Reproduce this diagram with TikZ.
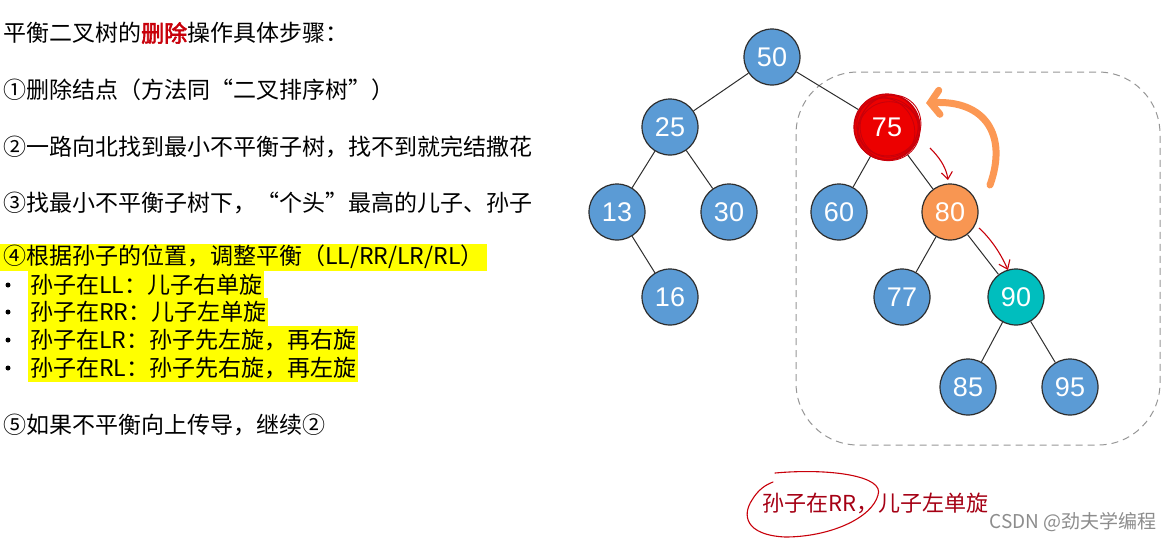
\documentclass[tikz,border=0pt]{standalone}
\usepackage{fontspec}
\setmainfont[AutoFakeBold=2.5]{Noto Sans CJK SC}
\newfontfamily\numfont{Liberation Sans}
\usepackage{tikz}
\usetikzlibrary{positioning,arrows.meta}
\definecolor{nodeblue}{RGB}{91,155,213}
\definecolor{nodered}{RGB}{236,0,0}
\definecolor{scribred}{RGB}{200,0,10}
\definecolor{nodeorange}{RGB}{248,150,82}
\definecolor{arroworange}{RGB}{252,152,84}
\definecolor{nodeteal}{RGB}{0,190,190}
\definecolor{edgegray}{RGB}{45,45,45}
\definecolor{boxgray}{RGB}{150,150,150}
\definecolor{hiyellow}{RGB}{255,255,0}
\definecolor{darkred}{RGB}{165,0,20}
\definecolor{wmgray}{RGB}{140,140,140}

\begin{document}
\begin{tikzpicture}[x=1pt, y=-1pt, on grid]
  \tikzstyle{treenode}=[circle,draw=edgegray,line width=1.2pt,fill=nodeblue,minimum size=56pt,inner sep=0pt,text=white,font=\numfont\fontsize{27}{27}\selectfont]
  \tikzstyle{line}=[anchor=west,inner sep=0pt,font=\fontsize{23}{28}\selectfont]
  \tikzstyle{hilite}=[line,fill=hiyellow,inner xsep=2pt,minimum height=28pt]
  \useasboundingbox (0,0) rectangle (1172,542);

  % steps on the left
  \node[line] (s0) at (3,33) {平衡二叉树的\textcolor{scribred}{\textbf{删除}}操作具体步骤：};
  \node[line] (s1) at (3,90) {①删除结点（方法同“二叉排序树”）};
  \node[line] (s2) at (3,147) {②一路向北找到最小不平衡子树，找不到就完结撒花};
  \node[line] (s3) at (3,203) {③找最小不平衡子树下，“个头”最高的儿子、孙子};
  \node[hilite,inner xsep=3pt,minimum height=27pt] (s4) at (0,257) {④根据孙子的位置，调整平衡（LL/RR/LR/RL）};
  \foreach \i/\y in {1/285,2/312,3/340,4/368}
    \node[circle,fill=black,inner sep=0pt,minimum size=5pt] (dot\i) at (8,\y) {};
  \node[hilite] (ll) at (28,285) {孙子在LL：儿子右单旋};
  \node[hilite] (rr) at (28,312) {孙子在RR：儿子左单旋};
  \node[hilite] (lr) at (28,340) {孙子在LR：孙子先左旋，再右旋};
  \node[hilite] (rl) at (28,368) {孙子在RL：孙子先右旋，再左旋};
  \node[line] (s5) at (3,425) {⑤如果不平衡向上传导，继续②};

  % subtree box
  \draw[boxgray,line width=1pt,dash pattern=on 7pt off 5pt,rounded corners=62pt] (796,72) rectangle (1160,445);

  % tree
  \node[treenode] (n50) at (772,57) {50};
  \node[treenode] (n25) [below left=70pt and 102pt of n50] {25};
  \node[treenode,fill=nodered,draw=scribred,minimum size=66pt] (n75) [below right=70pt and 115pt of n50] {75};
  \node[treenode] (n13) [below left=85pt and 53pt of n25] {13};
  \node[treenode] (n30) [below right=85pt and 59pt of n25] {30};
  \node[treenode] (n60) [below left=85pt and 48pt of n75] {60};
  \node[treenode,fill=nodeorange] (n80) [below right=85pt and 63pt of n75] {80};
  \node[treenode] (n16) [below right=85pt and 53pt of n13] {16};
  \node[treenode] (n77) [below left=85pt and 48pt of n80] {77};
  \node[treenode,fill=nodeteal] (n90) [below right=85pt and 66pt of n80] {90};
  \node[treenode] (n85) [below left=90pt and 48pt of n90] {85};
  \node[treenode] (n95) [below right=90pt and 54pt of n90] {95};
  \foreach \a/\b in {n50/n25,n50/n75,n25/n13,n25/n30,n13/n16,n75/n60,n75/n80,n80/n77,n80/n90,n90/n85,n90/n95}
    \draw[edgegray,line width=1pt] (\a) -- (\b);

  % scribbles round 75
  \foreach \r/\s/\a in {30/27/10,33/31/-25,34/30/50,31/29/80,32/28/-60}
    \draw[scribred,line width=0.9pt,rotate around={\a:(n75.center)}] ([shift={(1,2)}]n75.center) ellipse [x radius=\r, y radius=\s];

  % hand-drawn arrows
  \coordinate (p1) at (930,148);
  \coordinate (p2) at (948,180);
  \coordinate (q1) at (979,228);
  \coordinate (q2) at (1008,270);
  \draw[scribred,line width=1.1pt,-{Straight Barb[length=7pt,width=11pt]}] (p1) .. controls (938,156) and (946,166) .. (p2);
  \draw[scribred,line width=1.1pt,-{Straight Barb[length=8pt,width=12pt]}] (q1) .. controls (990,238) and (1000,252) .. (q2);
  \coordinate (o1) at (990,185);
  \coordinate (o2) at (926,103);
  \draw[arroworange,line width=7pt,line cap=round,-{Straight Barb[length=9pt,width=24pt,line cap=round]}] (o1) .. controls (1008,135) and (985,100) .. (o2);

  % note at the bottom
  \node[anchor=west,inner sep=0pt,text=darkred,font=\fontsize{22}{22}\selectfont] (note) at (762,503) {孙子在RR，儿子左单旋};
  \draw[scribred,line width=1.1pt,line cap=round] (775,473) .. controls (830,468) and (885,476) .. (878,495)
    .. controls (872,518) and (830,537) .. (785,537) .. controls (745,535) and (742,515) .. (752,500)
    .. controls (758,490) and (765,485) .. (773,482);
  \node[anchor=east,inner sep=0pt,text=wmgray,font=\fontsize{19}{19}\selectfont] (wm) at (1157,522) {CSDN @劲夫学编程};
\end{tikzpicture}
\end{document}
